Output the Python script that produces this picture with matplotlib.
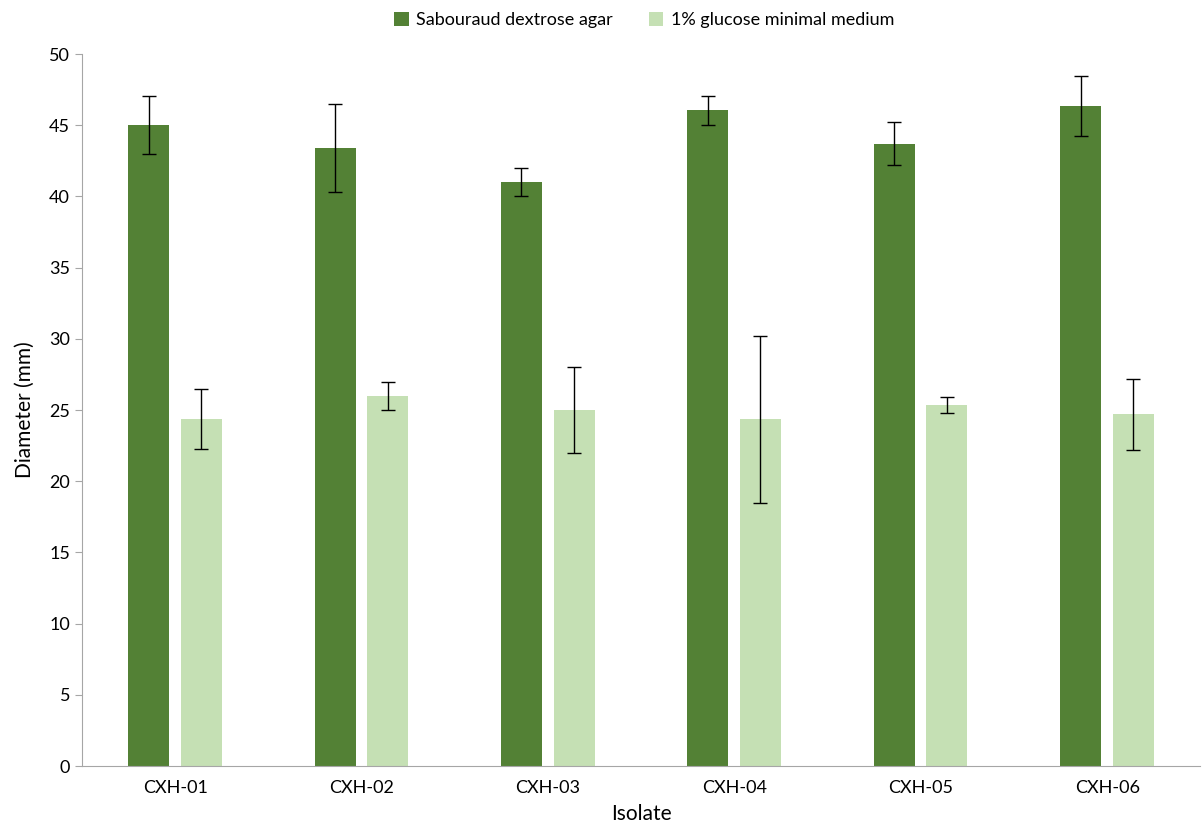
import matplotlib.pyplot as plt
import numpy as np

plt.rcParams['font.family'] = ['Lato', 'DejaVu Sans']

# data
isolates = ["CXH-01", "CXH-02", "CXH-03", "CXH-04", "CXH-05", "CXH-06"]
sda = [45.0, 43.4, 41.0, 46.05, 43.7, 46.35]
sda_err = [2.05, 3.1, 1.0, 1.0, 1.5, 2.1]
glc = [24.35, 26.0, 25.0, 24.35, 25.35, 24.7]
glc_err = [2.1, 1.0, 3.0, 5.85, 0.57, 2.5]

dark = "#538135"
light = "#c5e0b4"
grey = "#a6a6a6"

fig = plt.figure(figsize=(12.04, 8.25), dpi=100)
ax = fig.add_axes([0.068, 0.0715, 0.929, 0.863])

x = np.arange(len(isolates))
w = 0.22
err_style = dict(ecolor="black", elinewidth=1, capsize=5, capthick=1)
ax.bar(x - 0.142, sda, w, color=dark, yerr=sda_err, error_kw=err_style,
       label="Sabouraud dextrose agar")
ax.bar(x + 0.140, glc, w, color=light, yerr=glc_err, error_kw=err_style,
       label="1% glucose minimal medium")

ax.set_xlim(-0.5, 5.5)
ax.set_ylim(0, 50)
ax.set_yticks(range(0, 51, 5))
ax.set_xticks(x)
ax.set_xticklabels(isolates)
ax.tick_params(axis="x", length=0, labelsize=13, pad=10)
ax.tick_params(axis="y", length=5, color=grey, labelsize=13)

for s in ["top", "right"]:
    ax.spines[s].set_visible(False)
ax.spines["left"].set_color(grey)
ax.spines["bottom"].set_color(grey)

ax.set_ylabel("Diameter (mm)", fontsize=15, labelpad=10)
ax.set_xlabel("Isolate", fontsize=15, labelpad=6)

fig.legend(loc="upper center", bbox_to_anchor=(0.535, 1.005), ncol=2, frameon=False,
           fontsize=13, handlelength=0.8, handleheight=0.8, columnspacing=2.0,
           handletextpad=0.4)

plt.savefig("out.png", dpi=100)
